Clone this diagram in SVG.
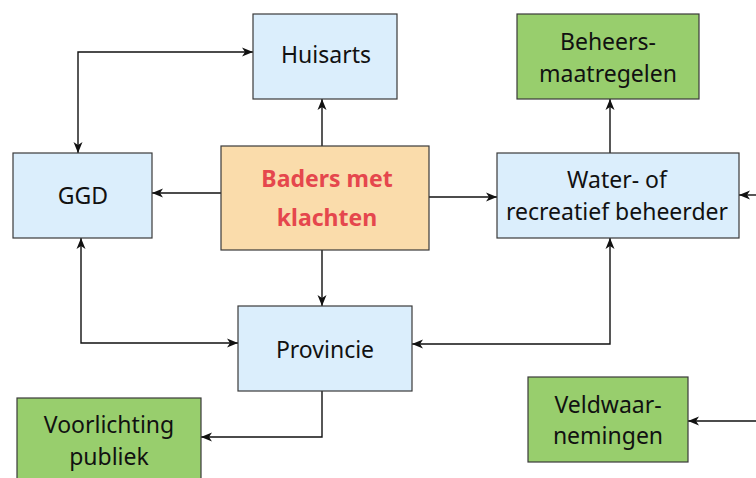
<svg xmlns="http://www.w3.org/2000/svg" width="756" height="478" viewBox="0 0 756 478">
<style>
.box{stroke:#3a3a3a;stroke-width:1.2}
.blue{fill:#dbeefc}
.green{fill:#98ce6d}
.orange{fill:#fadcab}
text{font-family:"Noto Sans","DejaVu Sans",sans-serif;font-size:23px;fill:#111;text-anchor:middle}
.red{fill:#e5474d;font-weight:bold}
.con path{fill:none;stroke:#111;stroke-width:1.4}
</style>
<defs>
<marker id="ah" markerUnits="userSpaceOnUse" markerWidth="12" markerHeight="10" refX="11" refY="5" orient="auto-start-reverse">
<path d="M0,0.5 L11,5 L0,9.5 L3,5 z" fill="#111"/>
</marker>
</defs>
<rect width="756" height="478" fill="#fff"/>
<g class="con">
<path d="M78,153 V52 H253" marker-start="url(#ah)" marker-end="url(#ah)"/>
<path d="M322,146 V99" marker-end="url(#ah)"/>
<path d="M221,193 H152" marker-end="url(#ah)"/>
<path d="M429,197 H497" marker-end="url(#ah)"/>
<path d="M610,153 V99" marker-end="url(#ah)"/>
<path d="M756,195 H739" marker-end="url(#ah)"/>
<path d="M322,250 V306" marker-end="url(#ah)"/>
<path d="M81,238 V343 H238" marker-start="url(#ah)" marker-end="url(#ah)"/>
<path d="M610,238 V344 H412" marker-start="url(#ah)" marker-end="url(#ah)"/>
<path d="M322,391 V437 H201" marker-end="url(#ah)"/>
<path d="M756,421 H688" marker-end="url(#ah)"/>
</g>
<g id="huisarts"><rect class="box blue" x="253" y="14" width="144" height="85"/><text x="326" y="63">Huisarts</text></g>
<g id="ggd"><rect class="box blue" x="13" y="153" width="139" height="85"/><text x="83" y="204">GGD</text></g>
<g id="baders"><rect class="box orange" x="221" y="146" width="208" height="104"/><text class="red" x="327" y="187">Baders met</text><text class="red" x="327" y="226">klachten</text></g>
<g id="water"><rect class="box blue" x="497" y="153" width="242" height="85"/><text x="617" y="188">Water- of</text><text x="617" y="220">recreatief beheerder</text></g>
<g id="beheers"><rect class="box green" x="517" y="14" width="182" height="85"/><text x="608" y="50">Beheers-</text><text x="608" y="82">maatregelen</text></g>
<g id="provincie"><rect class="box blue" x="238" y="306" width="174" height="85"/><text x="325" y="358">Provincie</text></g>
<g id="voorlichting"><rect class="box green" x="17" y="398" width="184" height="90"/><text x="109" y="433">Voorlichting</text><text x="109" y="465">publiek</text></g>
<g id="veldwaar"><rect class="box green" x="528" y="377" width="160" height="85"/><text x="608" y="413">Veldwaar-</text><text x="608" y="444">nemingen</text></g>
</svg>
